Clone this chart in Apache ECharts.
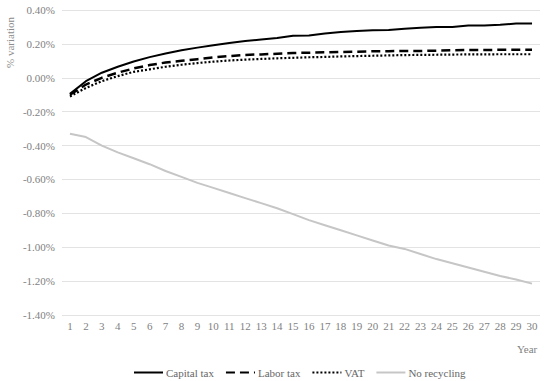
<!DOCTYPE html>
<html>
<head>
<meta charset="utf-8">
<script src="https://cdn.jsdelivr.net/npm/echarts@6/dist/echarts.min.js"></script>
<style>html,body{margin:0;padding:0;background:#fff}#c{width:550px;height:381px}</style>
</head>
<body>
<div id="c"></div>
<script>
var years = [];
for (var i = 1; i <= 30; i++) years.push(String(i));

var capitalTax = [-0.095,-0.02,0.03,0.065,0.096,0.122,0.143,0.162,0.178,0.192,0.205,0.217,0.226,0.235,0.248,0.250,0.262,0.270,0.276,0.280,0.282,0.290,0.295,0.300,0.300,0.308,0.308,0.313,0.320,0.320];
var laborTax = [-0.10,-0.04,0.00,0.03,0.055,0.075,0.09,0.10,0.11,0.12,0.128,0.135,0.138,0.142,0.146,0.148,0.150,0.152,0.154,0.156,0.157,0.158,0.158,0.160,0.162,0.164,0.164,0.165,0.165,0.165];
var vat = [-0.11,-0.06,-0.02,0.01,0.035,0.05,0.065,0.077,0.087,0.095,0.102,0.107,0.111,0.115,0.118,0.121,0.123,0.126,0.128,0.130,0.132,0.134,0.135,0.136,0.137,0.138,0.138,0.139,0.139,0.139];
var noRecycling = [-0.33,-0.35,-0.40,-0.44,-0.475,-0.51,-0.55,-0.585,-0.62,-0.65,-0.68,-0.71,-0.74,-0.77,-0.805,-0.84,-0.87,-0.90,-0.93,-0.96,-0.99,-1.01,-1.04,-1.07,-1.095,-1.12,-1.145,-1.17,-1.19,-1.215];

var font = 'Liberation Serif, Times New Roman, serif';
var chart = echarts.init(document.getElementById('c'), null, {renderer: 'svg'});
chart.setOption({
  animation: false,
  textStyle: {fontFamily: font},
  grid: {left: 62, right: 10, top: 10, bottom: 66},
  graphic: [
    {type: 'text', left: 4, top: 17, rotation: Math.PI / 2,
     style: {text: '% variation', fontFamily: font, fontSize: 11, fill: '#8c8c8c'}},
    {type: 'text', left: 517, top: 343,
     style: {text: 'Year', fontFamily: font, fontSize: 11, fill: '#7f7f7f'}}
  ],
  legend: {
    bottom: 3, left: 133, padding: 0,
    itemWidth: 29, itemHeight: 10, itemGap: 11,
    itemStyle: {opacity: 0},
    textStyle: {fontFamily: font, fontSize: 11, color: '#666', padding: [0, 0, 0, -2]},
    data: ['Capital tax', 'Labor tax', 'VAT', 'No recycling']
  },
  xAxis: {
    type: 'category', data: years, boundaryGap: true,
    axisLine: {show: false}, axisTick: {show: false},
    axisLabel: {fontFamily: font, fontSize: 11, color: '#7f7f7f', margin: 5, interval: 0}
  },
  yAxis: {
    type: 'value', min: -1.4, max: 0.4, interval: 0.2,
    axisLine: {show: false}, axisTick: {show: false},
    axisLabel: {fontFamily: font, fontSize: 11, color: '#7f7f7f', margin: 7,
      formatter: function (v) { return v.toFixed(2) + '%'; }},
    splitLine: {lineStyle: {color: '#e3e3e3', width: 1}}
  },
  series: [
    {name: 'Capital tax', type: 'line', data: capitalTax, symbol: 'none',
     lineStyle: {color: '#000', width: 2}, itemStyle: {color: '#000'}},
    {name: 'Labor tax', type: 'line', data: laborTax, symbol: 'none',
     lineStyle: {color: '#000', width: 2.5, type: [9, 5]}, itemStyle: {color: '#000'}},
    {name: 'VAT', type: 'line', data: vat, symbol: 'none',
     lineStyle: {color: '#000', width: 2.2, type: [2, 2]}, itemStyle: {color: '#000'}},
    {name: 'No recycling', type: 'line', data: noRecycling, symbol: 'none',
     lineStyle: {color: '#c6c6c6', width: 2}, itemStyle: {color: '#c6c6c6'}}
  ]
});
</script>
</body>
</html>
